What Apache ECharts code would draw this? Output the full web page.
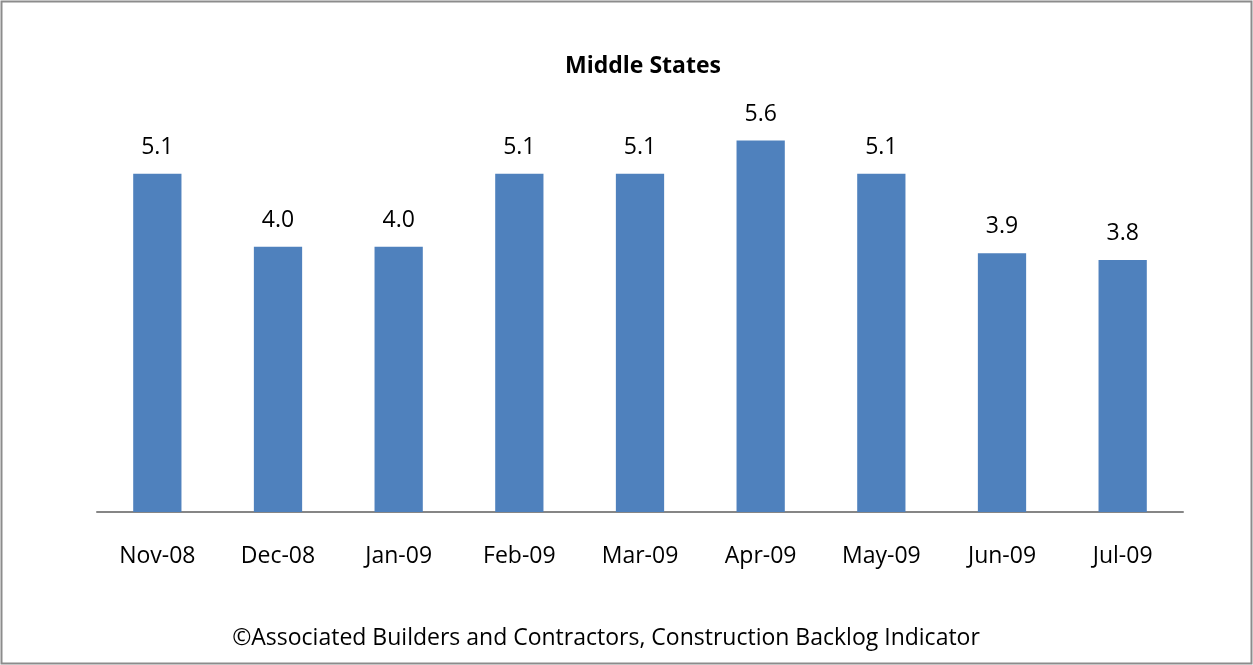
<!DOCTYPE html>
<html lang="en">
<head>
  <meta charset="UTF-8">
  <title>Middle States</title>
  <script src="https://cdn.jsdelivr.net/npm/echarts@6/dist/echarts.min.js"></script>
  <style>
    html, body { margin: 0; padding: 0; background: #fff; }
    #main { width: 1253px; height: 665px; }
  </style>
</head>
<body>
  <div id="main"></div>
  <script>
    var months = ['Nov-08', 'Dec-08', 'Jan-09', 'Feb-09', 'Mar-09', 'Apr-09', 'May-09', 'Jun-09', 'Jul-09']
    var backlog = [5.1, 4.0, 4.0, 5.1, 5.1, 5.6, 5.1, 3.9, 3.8]
    var footer = '©Associated Builders and Contractors, Construction Backlog Indicator'

    var font = '"Open Sans", Lato, sans-serif'
    var chart = echarts.init(document.getElementById('main'))

    chart.setOption({
      animation: false,
      title: [{
        text: 'Middle States',
        left: 638,
        textAlign: 'center',
        top: 50,
        textStyle: { fontFamily: font, fontSize: 23, fontWeight: 'bold', color: '#000' }
      }, {
        text: footer,
        left: 601,
        textAlign: 'center',
        top: 622,
        textStyle: { fontFamily: font, fontSize: 23, fontWeight: 'normal', color: '#000' }
      }],
      graphic: [{
        type: 'rect',
        shape: { x: 1.5, y: 1.5, width: 1250, height: 662 },
        style: { fill: 'none', stroke: '#8c8c8c', lineWidth: 2 }
      }],
      grid: { left: 97, right: 70, top: 114, bottom: 153 },
      xAxis: {
        type: 'category',
        data: months,
        axisLine: { lineStyle: { color: '#868686', width: 2 } },
        axisTick: { show: false },
        axisLabel: { color: '#000', fontFamily: font, fontSize: 23, margin: 33 }
      },
      yAxis: {
        type: 'value',
        min: 0,
        max: 6,
        show: false,
        splitLine: { show: false }
      },
      series: [{
        type: 'bar',
        data: backlog,
        barWidth: '40%',
        itemStyle: { color: '#4f81bd' },
        label: {
          show: true,
          position: 'top',
          distance: 15,
          formatter: function (p) { return p.value.toFixed(1) },
          color: '#000',
          fontFamily: font,
          fontSize: 23
        }
      }]
    })
  </script>
</body>
</html>
